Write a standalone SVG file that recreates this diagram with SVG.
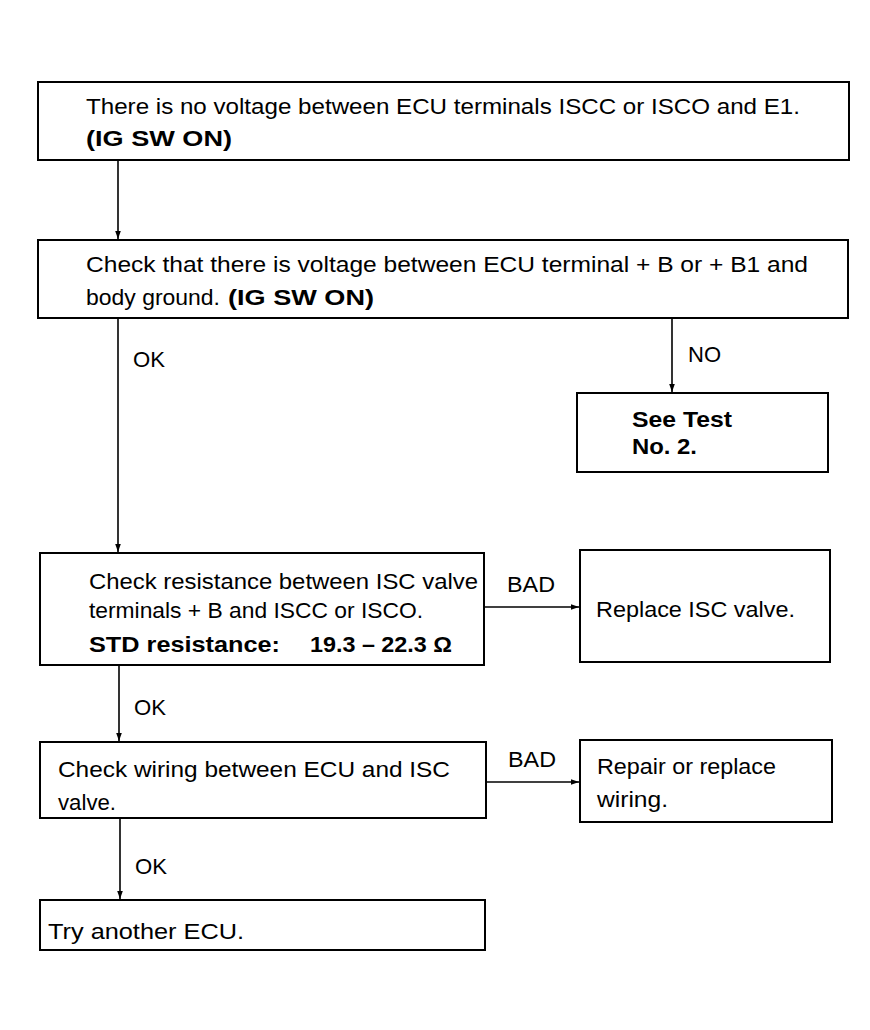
<svg xmlns="http://www.w3.org/2000/svg" width="870" height="1030" viewBox="0 0 870 1030">
<style>
.box{fill:#fff;stroke:#000;stroke-width:2}
.t{font-family:"Liberation Sans",Arial,sans-serif;font-size:22px;fill:#000}
.b{font-weight:bold}
.c{fill:none;stroke:#000;stroke-width:1.6}
</style>
<defs>
<marker id="ah" viewBox="0 0 10 10" refX="10" refY="5" markerWidth="10" markerHeight="8" markerUnits="userSpaceOnUse" orient="auto">
<path d="M0,1.5 L10,5 L0,8.5 Z" fill="#000"/>
</marker>
</defs>
<rect width="870" height="1030" fill="#fff"/>
<g id="connectors">
<line class="c" x1="118" y1="160" x2="118" y2="239" marker-end="url(#ah)"/>
<line class="c" x1="672" y1="318" x2="672" y2="392" marker-end="url(#ah)"/>
<line class="c" x1="118" y1="318" x2="118" y2="552" marker-end="url(#ah)"/>
<line class="c" x1="484" y1="607" x2="579" y2="607" marker-end="url(#ah)"/>
<line class="c" x1="119" y1="665" x2="119" y2="741" marker-end="url(#ah)"/>
<line class="c" x1="486" y1="782" x2="579" y2="782" marker-end="url(#ah)"/>
<line class="c" x1="120" y1="818" x2="120" y2="899" marker-end="url(#ah)"/>
<text class="t" x="133" y="367" textLength="32" lengthAdjust="spacingAndGlyphs">OK</text>
<text class="t" x="688" y="362" textLength="33" lengthAdjust="spacingAndGlyphs">NO</text>
<text class="t" x="507" y="592" textLength="48" lengthAdjust="spacingAndGlyphs">BAD</text>
<text class="t" x="134" y="715" textLength="32" lengthAdjust="spacingAndGlyphs">OK</text>
<text class="t" x="508" y="767" textLength="48" lengthAdjust="spacingAndGlyphs">BAD</text>
<text class="t" x="135" y="874" textLength="32" lengthAdjust="spacingAndGlyphs">OK</text>
</g>
<g id="n1">
<rect class="box" x="38" y="82" width="811" height="78"/>
<text class="t" x="86" y="114" textLength="714" lengthAdjust="spacingAndGlyphs">There is no voltage between ECU terminals ISCC or ISCO and E1.</text>
<text class="t b" x="86" y="146" textLength="146" lengthAdjust="spacingAndGlyphs">(IG SW ON)</text>
</g>
<g id="n2">
<rect class="box" x="38" y="240" width="810" height="78"/>
<text class="t" x="86" y="272" textLength="722" lengthAdjust="spacingAndGlyphs">Check that there is voltage between ECU terminal  + B or  + B1 and</text>
<text class="t" x="86" y="305" textLength="134" lengthAdjust="spacingAndGlyphs">body ground.</text>
<text class="t b" x="228" y="305" textLength="146" lengthAdjust="spacingAndGlyphs">(IG SW ON)</text>
</g>
<g id="n3">
<rect class="box" x="577" y="393" width="251" height="79"/>
<text class="t b" x="632" y="427" textLength="100" lengthAdjust="spacingAndGlyphs">See Test</text>
<text class="t b" x="632" y="454" textLength="65" lengthAdjust="spacingAndGlyphs">No. 2.</text>
</g>
<g id="n4">
<rect class="box" x="40" y="553" width="444" height="112"/>
<text class="t" x="89" y="589" textLength="389" lengthAdjust="spacingAndGlyphs">Check resistance between ISC valve</text>
<text class="t" x="89" y="618" textLength="334" lengthAdjust="spacingAndGlyphs">terminals + B and ISCC or ISCO.</text>
<text class="t b" x="89" y="652" textLength="191" lengthAdjust="spacingAndGlyphs">STD resistance:</text>
<text class="t b" x="310" y="652" textLength="142" lengthAdjust="spacingAndGlyphs">19.3 – 22.3 Ω</text>
</g>
<g id="n5">
<rect class="box" x="580" y="550" width="250" height="112"/>
<text class="t" x="596" y="617" textLength="199" lengthAdjust="spacingAndGlyphs">Replace ISC valve.</text>
</g>
<g id="n6">
<rect class="box" x="40" y="742" width="446" height="76"/>
<text class="t" x="58" y="777" textLength="392" lengthAdjust="spacingAndGlyphs">Check wiring between ECU and ISC</text>
<text class="t" x="58" y="810" textLength="58" lengthAdjust="spacingAndGlyphs">valve.</text>
</g>
<g id="n7">
<rect class="box" x="580" y="740" width="252" height="82"/>
<text class="t" x="597" y="774" textLength="179" lengthAdjust="spacingAndGlyphs">Repair or replace</text>
<text class="t" x="597" y="807" textLength="71" lengthAdjust="spacingAndGlyphs">wiring.</text>
</g>
<g id="n8">
<rect class="box" x="40" y="900" width="445" height="50"/>
<text class="t" x="48" y="939" textLength="196" lengthAdjust="spacingAndGlyphs">Try another ECU.</text>
</g>
</svg>
